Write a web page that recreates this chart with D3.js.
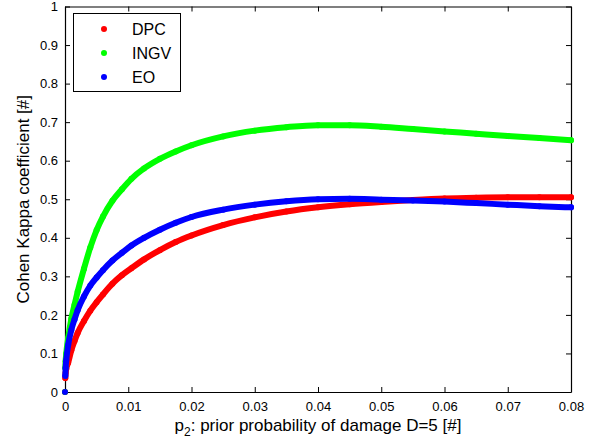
<!DOCTYPE html>
<html>
<head>
<meta charset="utf-8">
<script src="https://cdn.jsdelivr.net/npm/d3@7"></script>
<style>
  body { margin: 0; background: #fff; }
  svg { display: block; font-family: "Liberation Sans", Arial, sans-serif; }
</style>
</head>
<body>
<div id="chart"></div>
<script>
const width = 612
const height = 446
const margin = { top: 6.5, right: 41, bottom: 54, left: 65 }

// prior probability p2 (shared x grid)
const p2 = [0, 0.00005, 0.0001, 0.0002, 0.0005, 0.001, 0.0015, 0.002, 0.003, 0.004, 0.005, 0.006,
  0.0075, 0.009, 0.0105, 0.0125, 0.015, 0.0175, 0.02, 0.025, 0.03, 0.035, 0.04, 0.045,
  0.05, 0.055, 0.06, 0.065, 0.07, 0.075, 0.08]

const kappaDPC = [0, 0.036, 0.049, 0.060, 0.076, 0.108, 0.132, 0.153, 0.184, 0.211, 0.233, 0.253,
  0.281, 0.303, 0.321, 0.344, 0.368, 0.389, 0.406, 0.433, 0.453, 0.468, 0.479, 0.487,
  0.493, 0.498, 0.502, 0.504, 0.505, 0.505, 0.505]

const kappaINGV = [0, 0.062, 0.080, 0.100, 0.140, 0.190, 0.226, 0.260, 0.320, 0.375, 0.420, 0.455,
  0.496, 0.526, 0.553, 0.580, 0.605, 0.624, 0.640, 0.663, 0.678, 0.687, 0.692, 0.692,
  0.688, 0.682, 0.676, 0.670, 0.664, 0.659, 0.653]

const kappaEO = [0, 0.042, 0.062, 0.083, 0.122, 0.161, 0.188, 0.212, 0.248, 0.276, 0.297, 0.316,
  0.341, 0.361, 0.380, 0.400, 0.421, 0.439, 0.454, 0.473, 0.486, 0.495, 0.500, 0.501,
  0.499, 0.497, 0.494, 0.490, 0.486, 0.482, 0.479]

const seriesNames = ["DPC", "INGV", "EO"]
const seriesColors = ["#ff0000", "#00ff00", "#0000ff"]
const seriesValues = [kappaDPC, kappaINGV, kappaEO]

const xTicks = [0, 0.01, 0.02, 0.03, 0.04, 0.05, 0.06, 0.07, 0.08]
const yTicks = [0, 0.1, 0.2, 0.3, 0.4, 0.5, 0.6, 0.7, 0.8, 0.9, 1]

const svg = d3.select("#chart").append("svg").attr("width", width).attr("height", height)
svg.append("rect").attr("width", width).attr("height", height).attr("fill", "#fff")

const x = d3.scaleLinear().domain([0, 0.08]).range([margin.left, width - margin.right])
const y = d3.scaleLinear().domain([0, 1]).range([height - margin.bottom, margin.top])

// axes with inward ticks on all four sides
const fmt = d => d === 0 ? "0" : String(d)
const gx = svg.append("g").attr("transform", `translate(0,${y(0)})`)
  .call(d3.axisBottom(x).tickValues(xTicks).tickFormat(fmt).tickSizeInner(-5).tickSizeOuter(0).tickPadding(9.5))
const gy = svg.append("g").attr("transform", `translate(${x(0)},0)`)
  .call(d3.axisLeft(y).tickValues(yTicks).tickFormat(fmt).tickSizeInner(-5).tickSizeOuter(0).tickPadding(7))
const gt = svg.append("g").attr("transform", `translate(0,${y(1)})`)
  .call(d3.axisTop(x).tickValues(xTicks).tickFormat("").tickSizeInner(-5).tickSizeOuter(0))
const gr = svg.append("g").attr("transform", `translate(${x(0.08)},0)`)
  .call(d3.axisRight(y).tickValues(yTicks).tickFormat("").tickSizeInner(-5).tickSizeOuter(0))

;[gx, gy, gt, gr].forEach(g => {
  g.select(".domain").attr("stroke", "#000").attr("stroke-width", 1.2)
  g.selectAll(".tick line").attr("stroke", "#000").attr("stroke-width", 1)
  g.selectAll(".tick text").attr("fill", "#000").attr("font-size", 13)
    .attr("font-family", "Liberation Sans, Arial, sans-serif")
})

// series: thick band of dots
seriesValues.forEach((vals, i) => {
  const pts = p2.map((p, j) => [p, vals[j]])
  const g = svg.append("g")
  g.append("path")
    .datum(pts.slice(1))
    .attr("d", d3.line().x(d => x(d[0])).y(d => y(d[1])).curve(d3.curveMonotoneX))
    .attr("fill", "none")
    .attr("stroke", seriesColors[i])
    .attr("stroke-width", 6)
    .attr("stroke-linecap", "round")
    .attr("stroke-linejoin", "round")
  g.selectAll("circle").data(pts).join("circle")
    .attr("cx", d => x(d[0]))
    .attr("cy", d => y(d[1]))
    .attr("r", 3)
    .attr("fill", seriesColors[i])
})

// axis titles
const xt = svg.append("text")
  .attr("x", (x(0) + x(0.08)) / 2)
  .attr("y", 431)
  .attr("text-anchor", "middle")
  .attr("font-size", 17)
  .attr("fill", "#000")
xt.append("tspan").text("p")
xt.append("tspan").attr("font-size", 12).attr("dy", 5).text("2")
xt.append("tspan").attr("dy", -5).text(": prior probability of damage D=5 [#]")

svg.append("text")
  .attr("transform", `translate(29,${(y(0) + y(1)) / 2}) rotate(-90)`)
  .attr("text-anchor", "middle")
  .attr("font-size", 17)
  .attr("fill", "#000")
  .text("Cohen Kappa coefficient [#]")

// legend
const legend = svg.append("g")
legend.append("rect")
  .attr("x", 73.5).attr("y", 13.5).attr("width", 107).attr("height", 78)
  .attr("fill", "#fff").attr("stroke", "#000").attr("stroke-width", 1)
seriesNames.forEach((name, i) => {
  const cy = 29 + i * 24
  legend.append("circle").attr("cx", 104).attr("cy", cy).attr("r", 3).attr("fill", seriesColors[i])
  legend.append("text").attr("x", 132).attr("y", cy).attr("dy", "0.36em")
    .attr("font-size", 16).attr("fill", "#000").text(name)
})
</script>
</body>
</html>
